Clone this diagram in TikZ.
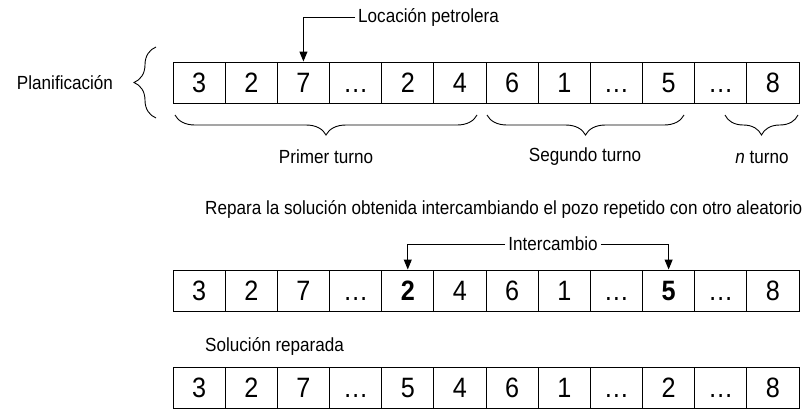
\documentclass[tikz,border=0pt]{standalone}
\usepackage{fontspec}
\setmainfont{Liberation Sans}[FakeStretch=0.9]
\usetikzlibrary{decorations.pathreplacing,arrows.meta}
\tikzset{
    celda/.style={draw,line width=1pt,minimum width=52.17pt,minimum height=41pt,inner sep=0pt,
        text height=20pt,text depth=0pt,font=\fontsize{28}{28}\selectfont},
    etiqueta/.style={font=\fontsize{19}{19}\selectfont,inner sep=3pt},
    llave/.style={decorate,decoration={brace,amplitude=20pt},line width=0.9pt},
    flecha/.style={-{Triangle[length=10pt,width=8pt]},line width=1pt}
}
\begin{document}
\begin{tikzpicture}[x=1pt,y=-1pt]
    \useasboundingbox (0,0) rectangle (810,415);
    %fila planificacion
    \foreach \v [count=\i] in {3,2,7,\dots,2,4,6,1,\dots,5,\dots,8}
        \node[celda] (a\i) at ({173+(\i-0.5)*52.17},82.5) {\v};
    \node[etiqueta,anchor=west] (loc) at (355,17) {Locación petrolera};
    \draw[flecha] (loc.west) -| (a3.north); %locacion
    \node[etiqueta] (plan) at (65,83) {Planificación};
    \draw[llave,decoration={amplitude=22pt}] (156,118) -- (156,47);
    %turnos
    \draw[llave,decoration={mirror}] (175,115) -- (477,115);
    \draw[llave,decoration={mirror}] (487,115) -- (684,115);
    \draw[llave,decoration={mirror}] (725,115) -- (798,115);
    \node[etiqueta] (t1) at (326,157) {Primer turno};
    \node[etiqueta] (t2) at (585,157) {Segundo turno};
    \node[etiqueta] (tn) at (762,157) {\textit{n} turno};
    %reparacion
    \node[etiqueta,anchor=west] (rep) at (202,209) {Repara la solución obtenida intercambiando el pozo repetido con otro aleatorio};
    \foreach \v [count=\i] in {3,2,7,\dots,\textbf{2},4,6,1,\dots,\textbf{5},\dots,8}
        \node[celda] (b\i) at ({173+(\i-0.5)*52.17},290.5) {\v};
    \node[etiqueta] (inter) at (553,244) {Intercambio};
    \draw[flecha] (inter.west) -| (b5.north);
    \draw[flecha] (inter.east) -| (b10.north);
    %solucion reparada
    \node[etiqueta,anchor=west] (sol) at (202,346) {Solución reparada};
    \foreach \v [count=\i] in {3,2,7,\dots,5,4,6,1,\dots,2,\dots,8}
        \node[celda] (c\i) at ({173+(\i-0.5)*52.17},387.5) {\v};
\end{tikzpicture}
\end{document}
